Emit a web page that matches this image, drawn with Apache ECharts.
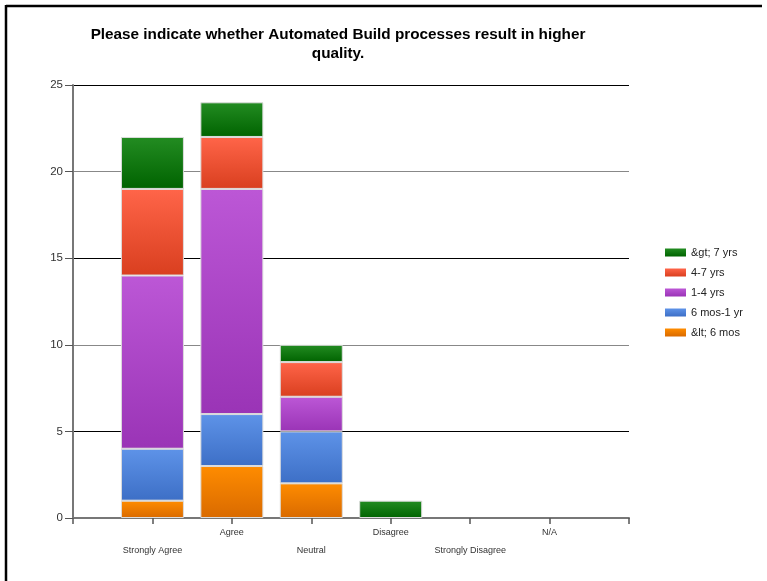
<!DOCTYPE html>
<html>
<head>
<meta charset="utf-8">
<script src="https://cdn.jsdelivr.net/npm/echarts@6/dist/echarts.min.js"></script>
<style>
html,body{margin:0;padding:0;background:#fff;}
#c{width:767px;height:581px;}
</style>
</head>
<body>
<div id="c"></div>
<script>
var titleText = 'Please indicate whether Automated Build processes result in higher\nquality.';
var categories = ['Strongly Agree', 'Agree', 'Neutral', 'Disagree', 'Strongly Disagree', 'N/A'];
var seriesNames = ['&lt; 6 mos', '6 mos-1 yr', '1-4 yrs', '4-7 yrs', '&gt; 7 yrs'];
var ltSixMos   = [1, 3, 2, 0, 0, 0];
var sixMosOneYr = [3, 3, 3, 0, 0, 0];
var oneFourYrs = [10, 13, 2, 0, 0, 0];
var fourSevenYrs = [5, 3, 2, 0, 0, 0];
var gtSevenYrs = [3, 2, 1, 1, 0, 0];
var yTicks = [0, 5, 10, 15, 20, 25];

var values = [ltSixMos, sixMosOneYr, oneFourYrs, fourSevenYrs, gtSevenYrs];
var gradients = [
  ['#FF8C00', '#D96A00'],
  ['#5E93E8', '#3D6FC6'],
  ['#BC57D6', '#9A34B6'],
  ['#FF6549', '#D93F1F'],
  ['#238C22', '#006300']
];
var xData = [''].concat(categories).concat(['']);

function grad(c) {
  return new echarts.graphic.LinearGradient(0, 0, 0, 1, [
    {offset: 0, color: c[0]}, {offset: 1, color: c[1]}
  ]);
}

var series = values.map(function (arr, i) {
  return {
    name: seriesNames[i],
    type: 'bar',
    stack: 'total',
    barWidth: 63,
    data: [null].concat(arr.map(function (v) { return v === 0 ? null : v; })).concat([null]),
    itemStyle: {color: grad(gradients[i]), borderColor: '#dcdcdc', borderWidth: 1},
    emphasis: {disabled: true}
  };
});

var chart = echarts.init(document.getElementById('c'), null, {renderer: 'canvas'});
chart.setOption({
  animation: false,
  backgroundColor: '#fff',
  title: {
    text: titleText,
    left: 333,
    textAlign: 'center',
    top: 20,
    textStyle: {fontFamily: 'Liberation Sans, Arial', fontSize: 15.3, fontWeight: 'bold', color: '#000', lineHeight: 19}
  },
  graphic: [
    {type: 'line', shape: {x1: 6, y1: 6, x2: 762, y2: 6}, style: {stroke: '#000', lineWidth: 2.5}},
    {type: 'line', shape: {x1: 6, y1: 5, x2: 6, y2: 581}, style: {stroke: '#000', lineWidth: 2.5}}
  ],
  legend: {
    orient: 'vertical',
    left: 660,
    top: 241,
    icon: 'rect',
    itemWidth: 21,
    itemHeight: 8,
    itemGap: 7,
    data: ['&gt; 7 yrs', '4-7 yrs', '1-4 yrs', '6 mos-1 yr', '&lt; 6 mos'],
    textStyle: {fontFamily: 'Liberation Sans, Arial', fontSize: 11, color: '#222', lineHeight: 13},
    itemStyle: {borderWidth: 0}
  },
  grid: {left: 73, right: 138, top: 85, bottom: 63},
  xAxis: {
    type: 'category',
    data: xData,
    boundaryGap: false,
    axisLine: {lineStyle: {color: '#777', width: 2}},
    axisTick: {show: true, interval: 0, length: 6, lineStyle: {color: '#555', width: 1.5}},
    axisLabel: {
      interval: 0,
      fontFamily: 'Liberation Sans, Arial',
      fontSize: 9,
      color: '#333',
      lineHeight: 18,
      margin: 6,
      formatter: function (v, idx) { return (idx % 2 === 1) ? '\n' + v : v; }
    },
    splitLine: {show: false}
  },
  yAxis: {
    type: 'value',
    min: yTicks[0],
    max: yTicks[yTicks.length - 1],
    interval: 5,
    axisLine: {show: true, lineStyle: {color: '#777', width: 2}},
    axisTick: {show: true, length: 8, lineStyle: {color: '#555'}},
    axisLabel: {fontFamily: 'Liberation Sans, Arial', fontSize: 11.5, color: '#333', margin: 10},
    splitLine: {show: true, lineStyle: {color: ['#888', '#000'], width: 1}}
  },
  series: series
});
</script>
</body>
</html>
